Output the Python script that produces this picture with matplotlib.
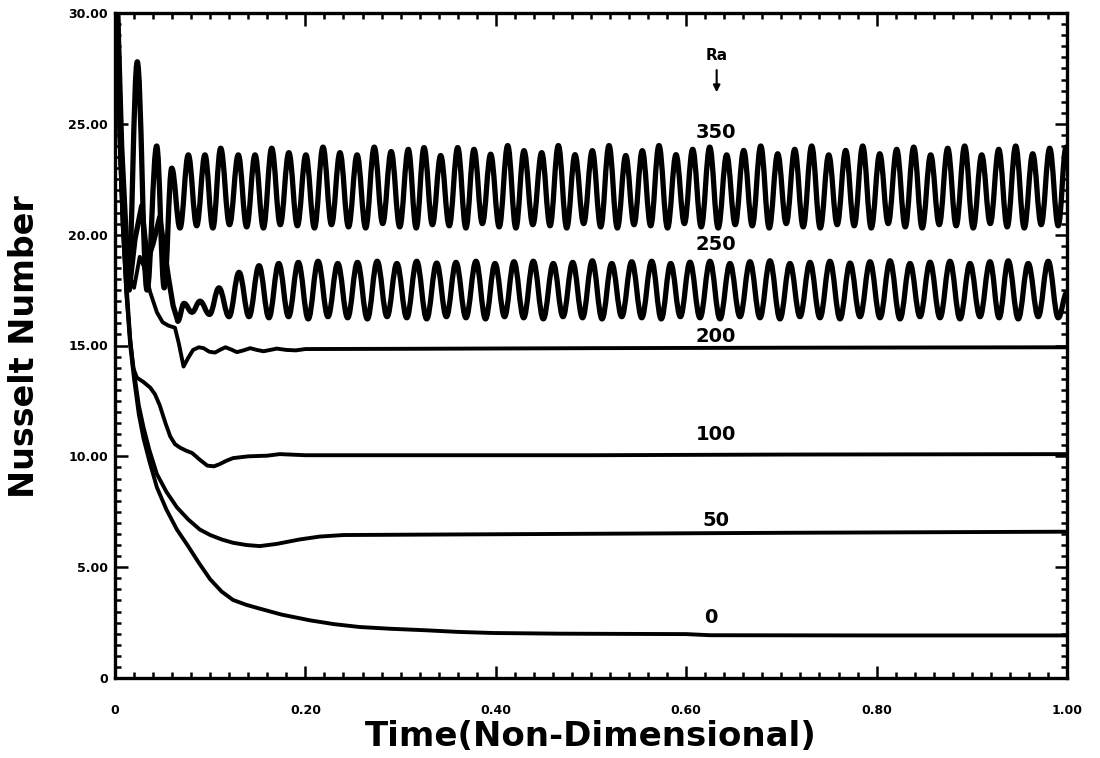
import numpy as np
import matplotlib
matplotlib.use('Agg')
import matplotlib.pyplot as plt
from matplotlib.path import Path
from matplotlib.patches import PathPatch
from matplotlib.ticker import MultipleLocator, FixedLocator, FixedFormatter

# ---- Ra = 0 ----
t_ra0 = [0.0015, 0.005, 0.008, 0.012, 0.016, 0.020, 0.025, 0.030, 0.036, 0.044,
         0.054, 0.065, 0.076, 0.088, 0.100, 0.112, 0.124, 0.138, 0.152, 0.175,
         0.205, 0.230, 0.257, 0.290, 0.328, 0.360, 0.397, 0.467, 0.600, 0.625,
         0.800, 1.000]
nu_ra0 = [32.0, 24.0, 20.5, 17.3, 15.0, 13.5, 11.9, 10.8, 9.8, 8.6,
          7.6, 6.7, 6.0, 5.2, 4.45, 3.9, 3.52, 3.3, 3.13, 2.86,
          2.6, 2.43, 2.3, 2.22, 2.15, 2.08, 2.03, 2.0, 1.98, 1.93,
          1.92, 1.92]

# ---- Ra = 50 ----
t_ra50 = [0.0015, 0.005, 0.008, 0.012, 0.016, 0.020, 0.025, 0.030, 0.036, 0.044,
          0.054, 0.065, 0.077, 0.089, 0.100, 0.112, 0.124, 0.138, 0.152, 0.170,
          0.194, 0.215, 0.240, 0.330, 0.470, 0.700, 1.000]
nu_ra50 = [32.0, 24.0, 20.5, 17.4, 15.2, 13.8, 12.3, 11.3, 10.3, 9.2,
           8.4, 7.7, 7.15, 6.7, 6.45, 6.25, 6.1, 6.0, 5.95, 6.05,
           6.25, 6.38, 6.45, 6.47, 6.5, 6.55, 6.6]

# ---- Ra = 100 ----
t_ra100 = [0.0015, 0.005, 0.008, 0.012, 0.016, 0.019, 0.023, 0.030, 0.037, 0.042,
           0.047, 0.053, 0.058, 0.063, 0.068, 0.075, 0.081, 0.089, 0.097, 0.104,
           0.110, 0.117, 0.124, 0.140, 0.160, 0.173, 0.200, 0.300, 0.500, 0.700,
           1.000]
nu_ra100 = [32.0, 24.5, 21.0, 17.8, 15.3, 14.0, 13.55, 13.35, 13.1, 12.8,
            12.3, 11.5, 10.9, 10.55, 10.4, 10.25, 10.15, 9.85, 9.58, 9.55,
            9.65, 9.8, 9.92, 10.0, 10.03, 10.1, 10.05, 10.05, 10.05, 10.08,
            10.1]

# ---- Ra = 200 ----
t_ra200 = [0.0015, 0.006, 0.010, 0.015, 0.020, 0.026, 0.030, 0.033, 0.037, 0.044,
           0.050, 0.056, 0.063, 0.067, 0.072, 0.077, 0.082, 0.088, 0.093, 0.099,
           0.105, 0.111, 0.116, 0.122, 0.128, 0.135, 0.142, 0.149, 0.156, 0.163,
           0.170, 0.180, 0.190, 0.200, 0.300, 0.500, 0.700, 1.000]
nu_ra200 = [32.0, 24.0, 20.5, 18.2, 17.6, 19.0, 18.6, 18.1, 17.4, 16.5,
            16.05, 15.9, 15.8, 15.1, 14.05, 14.45, 14.8, 14.92, 14.88, 14.72,
            14.68, 14.82, 14.92, 14.82, 14.7, 14.78, 14.88, 14.8, 14.74, 14.8,
            14.86, 14.8, 14.78, 14.84, 14.85, 14.88, 14.9, 14.92]

# ---- Ra = 250 (oscillating) ----
t_ra250_start = [0.0015, 0.006, 0.010, 0.015, 0.021, 0.028, 0.034, 0.040, 0.047, 0.056,
                 0.061]
nu_ra250_start = [32.0, 24.0, 20.0, 17.5, 19.8, 21.3, 18.8, 19.6, 20.8, 18.1,
                  16.8]
t_ra250_peak = [0.0725, 0.0893, 0.1092, 0.1303, 0.1513, 0.1720, 0.1926, 0.2133, 0.2340, 0.2547,
                0.2754, 0.2961, 0.3169, 0.3379, 0.3582, 0.3792, 0.3992, 0.4191, 0.4394, 0.4604,
                0.4808, 0.5014, 0.5218, 0.5428, 0.5638, 0.5837, 0.6040, 0.6250, 0.6460, 0.6670,
                0.6880, 0.7090, 0.7300, 0.7510, 0.7721, 0.7931, 0.8141, 0.8351, 0.8561, 0.8771,
                0.8981, 0.9191, 0.9383, 0.9593, 0.9803]
nu_ra250_peak = [16.9, 17.0, 17.6, 18.3, 18.6, 18.7, 18.75, 18.8, 18.7, 18.75,
                 18.8, 18.7, 18.8, 18.72, 18.75, 18.8, 18.7, 18.78, 18.8, 18.7,
                 18.75, 18.82, 18.7, 18.78, 18.8, 18.7, 18.76, 18.8, 18.7, 18.78,
                 18.82, 18.7, 18.75, 18.8, 18.72, 18.78, 18.82, 18.7, 18.76, 18.8,
                 18.7, 18.78, 18.82, 18.7, 18.8]
t_ra250_trough = [0.0660, 0.0809, 0.0993, 0.1198, 0.1408, 0.1617, 0.1823, 0.2030, 0.2237, 0.2444,
                  0.2651, 0.2858, 0.3065, 0.3274, 0.3481, 0.3687, 0.3892, 0.4092, 0.4293, 0.4499,
                  0.4706, 0.4911, 0.5116, 0.5323, 0.5533, 0.5738, 0.5939, 0.6145, 0.6355, 0.6565,
                  0.6775, 0.6985, 0.7195, 0.7405, 0.7616, 0.7826, 0.8036, 0.8246, 0.8456, 0.8666,
                  0.8876, 0.9086, 0.9287, 0.9488, 0.9698, 0.9908]
nu_ra250_trough = [16.1, 16.5, 16.4, 16.3, 16.3, 16.25, 16.3, 16.2, 16.3, 16.25,
                   16.2, 16.3, 16.25, 16.2, 16.3, 16.25, 16.2, 16.3, 16.25, 16.2,
                   16.3, 16.25, 16.2, 16.3, 16.25, 16.2, 16.3, 16.25, 16.2, 16.3,
                   16.25, 16.2, 16.3, 16.25, 16.2, 16.3, 16.25, 16.2, 16.3, 16.25,
                   16.2, 16.3, 16.25, 16.2, 16.3, 16.25]
t_ra250_end = [1.0]
nu_ra250_end = [17.4]

# ---- Ra = 350 (oscillating) ----
t_ra350_start = [0.0015, 0.007]
nu_ra350_start = [32.0, 24.0]
t_ra350_peak = [0.0234, 0.0438, 0.0596, 0.0770, 0.0945, 0.1110, 0.1295, 0.1471, 0.1646, 0.1826,
                0.2005, 0.2185, 0.2363, 0.2543, 0.2723, 0.2901, 0.3081, 0.3246, 0.3421, 0.3600,
                0.3771, 0.3946, 0.4125, 0.4296, 0.4482, 0.4657, 0.4832, 0.5014, 0.5189, 0.5365,
                0.5539, 0.5714, 0.5893, 0.6068, 0.6247, 0.6425, 0.6604, 0.6783, 0.6961, 0.7140,
                0.7318, 0.7497, 0.7675, 0.7854, 0.8033, 0.8211, 0.8390, 0.8568, 0.8747, 0.8925,
                0.9104, 0.9283, 0.9461, 0.9640, 0.9818, 0.9990]
nu_ra350_peak = [27.8, 24.0, 23.0, 23.6, 23.6, 23.9, 23.6, 23.6, 23.9, 23.7,
                 23.6, 23.95, 23.7, 23.6, 23.95, 23.75, 23.85, 23.93, 23.57, 23.93,
                 23.85, 23.63, 24.02, 23.79, 23.7, 24.02, 23.61, 23.79, 24.02, 23.57,
                 23.79, 24.02, 23.61, 23.85, 23.95, 23.6, 23.8, 24.0, 23.65, 23.85,
                 24.0, 23.6, 23.8, 24.0, 23.65, 23.85, 23.95, 23.6, 23.9, 24.0,
                 23.6, 23.85, 24.0, 23.65, 23.9, 23.95]
t_ra350_trough = [0.0140, 0.0336, 0.0517, 0.0683, 0.0858, 0.1028, 0.1203, 0.1383, 0.1559, 0.1736,
                  0.1916, 0.2095, 0.2274, 0.2453, 0.2633, 0.2812, 0.2991, 0.3164, 0.3334, 0.3511,
                  0.3686, 0.3859, 0.4036, 0.4211, 0.4389, 0.4570, 0.4745, 0.4923, 0.5102, 0.5277,
                  0.5452, 0.5627, 0.5804, 0.5981, 0.6158, 0.6336, 0.6515, 0.6694, 0.6872, 0.7051,
                  0.7229, 0.7408, 0.7586, 0.7765, 0.7944, 0.8122, 0.8301, 0.8479, 0.8658, 0.8836,
                  0.9015, 0.9194, 0.9372, 0.9551, 0.9729, 0.9908]
nu_ra350_trough = [18.0, 17.5, 17.6, 20.3, 20.4, 20.3, 20.45, 20.35, 20.3, 20.45,
                   20.4, 20.3, 20.45, 20.35, 20.3, 20.5, 20.35, 20.3, 20.45, 20.4,
                   20.3, 20.5, 20.35, 20.3, 20.45, 20.4, 20.3, 20.5, 20.35, 20.3,
                   20.45, 20.4, 20.3, 20.5, 20.35, 20.3, 20.45, 20.4, 20.3, 20.5,
                   20.35, 20.3, 20.45, 20.4, 20.3, 20.5, 20.35, 20.3, 20.45, 20.4,
                   20.3, 20.5, 20.35, 20.3, 20.45, 20.4]

# curve labels (Ra value, t, Nu)
label_text = ['350', '250', '200', '100', '50', '0']
label_t = [0.631, 0.631, 0.631, 0.631, 0.631, 0.626]
label_nu = [24.6, 19.55, 15.4, 11.0, 7.1, 2.75]

x_ticks = [0, 0.2, 0.4, 0.6, 0.8, 1.0]
x_ticklabels = ['0', '0.20', '0.40', '0.60', '0.80', '1.00']
y_ticks = [0, 5, 10, 15, 20, 25, 30]
y_ticklabels = ['0', '5.00', '10.00', '15.00', '20.00', '25.00', '30.00']


def extrema_path(t_pk, nu_pk, t_tr, nu_tr, t_end=None, nu_end=None):
    # smooth curve through successive extrema, flat tangent at each one
    t = np.concatenate([np.asarray(t_pk, float), np.asarray(t_tr, float)])
    nu = np.concatenate([np.asarray(nu_pk, float), np.asarray(nu_tr, float)])
    order = np.argsort(t)
    t, nu = t[order], nu[order]
    if t_end is not None:
        t = np.append(t, t_end)
        nu = np.append(nu, nu_end)
    verts = [(t[0], nu[0])]
    codes = [Path.MOVETO]
    for i in range(len(t) - 1):
        dt = (t[i + 1] - t[i]) / 2.6
        verts += [(t[i] + dt, nu[i]), (t[i + 1] - dt, nu[i + 1]), (t[i + 1], nu[i + 1])]
        codes += [Path.CURVE4] * 3
    return Path(verts, codes), t[0], nu[0]


fig = plt.figure(figsize=(11, 7.58), dpi=100)
ax = fig.add_axes([115 / 1100, 1 - 678 / 758, 952 / 1100, 665 / 758])

lw = 2.8
for t, nu in [(t_ra0, nu_ra0), (t_ra50, nu_ra50), (t_ra100, nu_ra100), (t_ra200, nu_ra200)]:
    ax.plot(t, nu, color='black', lw=lw, solid_joinstyle='round')

osc_lw = 3.8
for (ts, ns, tp, npk, tt, ntr, te, ne) in [
        (t_ra250_start, nu_ra250_start, t_ra250_peak, nu_ra250_peak,
         t_ra250_trough, nu_ra250_trough, t_ra250_end, nu_ra250_end),
        (t_ra350_start, nu_ra350_start, t_ra350_peak, nu_ra350_peak,
         t_ra350_trough, nu_ra350_trough, None, None)]:
    path, t0, n0 = extrema_path(tp, npk, tt, ntr, te, ne)
    ax.plot(list(ts) + [t0], list(ns) + [n0], color='black', lw=osc_lw,
            solid_joinstyle='round', solid_capstyle='round')
    ax.add_patch(PathPatch(path, fill=False, edgecolor='black', lw=osc_lw,
                           joinstyle='round', capstyle='round'))

for s, tx, ny in zip(label_text, label_t, label_nu):
    ax.text(tx, ny, s, ha='center', va='center', fontsize=14, fontweight='heavy')

ax.text(0.632, 28.1, 'Ra', ha='center', va='center', fontsize=11, fontweight='heavy')
ax.annotate('', xy=(0.632, 26.3), xytext=(0.632, 27.55),
            arrowprops=dict(arrowstyle='-|>', color='black', lw=1.5, mutation_scale=10))

ax.set_xlim(0, 1)
ax.set_ylim(0, 30)
ax.xaxis.set_major_locator(FixedLocator(x_ticks))
ax.xaxis.set_major_formatter(FixedFormatter(x_ticklabels))
ax.yaxis.set_major_locator(FixedLocator(y_ticks))
ax.yaxis.set_major_formatter(FixedFormatter(y_ticklabels))
ax.xaxis.set_minor_locator(MultipleLocator(0.02))
ax.yaxis.set_minor_locator(MultipleLocator(0.5))

ax.tick_params(which='both', direction='in', top=True, right=True, width=1.8)
ax.tick_params(which='major', length=9)
ax.tick_params(which='minor', length=4)
ax.tick_params(axis='x', which='major', pad=19)
ax.tick_params(axis='y', which='major', pad=5)
for lab in ax.get_xticklabels() + ax.get_yticklabels():
    lab.set_fontsize(9)
    lab.set_fontweight('heavy')
for sp in ax.spines.values():
    sp.set_linewidth(2.4)

fig.text(591 / 1100, 1 - 737 / 758, 'Time(Non-Dimensional)', ha='center', va='center',
         fontsize=24.5, fontweight='heavy')
fig.text(25 / 1100, 1 - 347 / 758, 'Nusselt Number', ha='center', va='center',
         rotation=90, fontsize=24, fontweight='heavy')

fig.savefig('out.png', dpi=100, facecolor='white')
